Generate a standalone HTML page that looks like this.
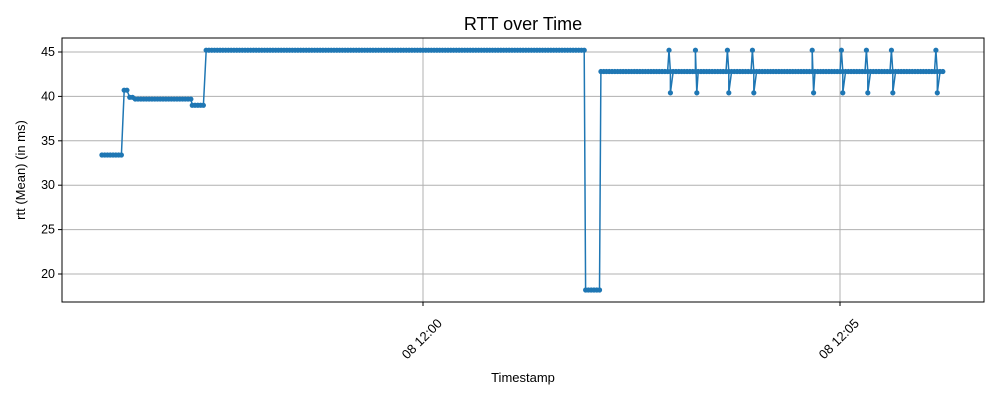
<!DOCTYPE html>
<html><head><meta charset="utf-8"><style>
body{margin:0;background:#fff;font-family:"Liberation Sans","DejaVu Sans",sans-serif}
</style></head><body>
<svg id="chart" width="1000" height="400" xmlns="http://www.w3.org/2000/svg">
<rect width="1000" height="400" fill="#fff"/>
<text x="523" y="30" font-size="18" text-anchor="middle" fill="#000">RTT over Time</text>
<g id="grid"></g>
<g id="marks"></g>
<rect x="62" y="38" width="922" height="264" fill="none" stroke="#000" stroke-width="1"/>
<g id="axes"></g>
<text x="523" y="382" font-size="13" text-anchor="middle">Timestamp</text>
<text transform="translate(25,170) rotate(-90)" font-size="13" text-anchor="middle">rtt (Mean) (in ms)</text>
</svg>
<script>
// seconds relative to 08 12:00:00
const runStart=[-231,-215,-211,-207,-166,-156,117,128];
const runEnd=[-216,-212,-208,-167,-157,116,127,374];
const runValue=[33.4,40.7,39.9,39.7,39.0,45.2,18.2,42.8];
const spikeTime=[177,196,219,237,280,301,319,337,369];
const spikeHigh=[45.2,45.2,45.2,45.2,45.2,45.2,45.2,45.2,45.2];
const spikeLow=[40.4,40.4,40.4,40.4,40.4,40.4,40.4,40.4,40.4];
const yTicks=[20,25,30,35,40,45];
const xTickSec=[0,300];
const xTickLabels=["08 12:00","08 12:05"];

const X0=62,X1=984,Y0=38,Y1=302;
const xs=t=>423+t*1.39;
const ys=v=>52+(45-v)*8.88;
const NS="http://www.w3.org/2000/svg";
function mk(tag,attrs,parent){const e=document.createElementNS(NS,tag);for(const k in attrs)e.setAttribute(k,attrs[k]);parent.appendChild(e);return e;}
const grid=document.getElementById('grid'),axes=document.getElementById('axes'),marks=document.getElementById('marks');

yTicks.forEach(v=>{
  const y=ys(v);
  const g=mk('line',{x1:X0,x2:X1,y1:y,y2:y,stroke:'#b0b0b0','stroke-width':1},grid);
  
  
  mk('line',{x1:X0-4,x2:X0,y1:y,y2:y,stroke:'#000'},axes);
  const t=mk('text',{x:X0-7,y:y+4,'font-size':12.5,'text-anchor':'end'},axes);
  t.textContent=v;
  
  
});
xTickSec.forEach((s,i)=>{
  const x=xs(s);
  const g=mk('line',{x1:x,x2:x,y1:Y0,y2:Y1,stroke:'#b0b0b0','stroke-width':1},grid);
  
  
  mk('line',{x1:x,x2:x,y1:Y1,y2:Y1+4,stroke:'#000'},axes);
  const t=mk('text',{'font-size':13,'text-anchor':'middle',transform:`translate(${x+2},${Y1+40}) rotate(-45)`},axes);
  t.textContent=xTickLabels[i];
  
  
});

// build points
const pts=[];
runStart.forEach((s,i)=>{for(let t=s;t<=runEnd[i];t+=2)pts.push([t,runValue[i]]);});
spikeTime.forEach((t,i)=>{pts.push([t,spikeHigh[i]]);pts.push([t+1,spikeLow[i]]);});
pts.sort((a,b)=>a[0]-b[0]);
const d=pts.map((p,i)=>(i?'L':'M')+xs(p[0]).toFixed(1)+','+ys(p[1]).toFixed(1)).join('');
const line=mk('path',{d:d,fill:'none',stroke:'#1f77b4','stroke-width':1.5},marks);


pts.forEach(p=>{
  const c=mk('circle',{cx:xs(p[0]),cy:ys(p[1]),r:2.6,fill:'#1f77b4'},marks);
  
  
});
</script>
</body></html>
